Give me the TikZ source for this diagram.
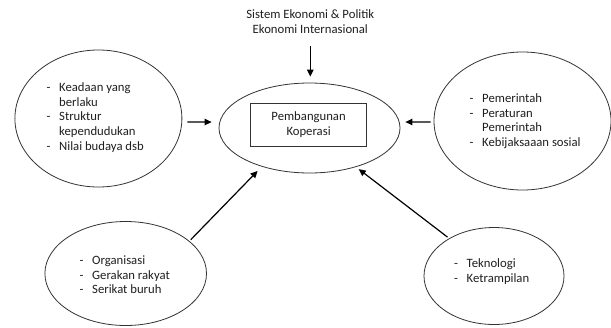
\documentclass[tikz,border=0pt]{standalone}
\usepackage{fontspec}
\setmainfont{Carlito}
\usetikzlibrary{shapes.geometric,arrows.meta}
\begin{document}
\begin{tikzpicture}[x=1bp,y=-1bp,
  oval/.style={draw=black!80, line width=0.8bp, ellipse, inner sep=0pt},
  txt/.style={inner sep=0pt, text=black!88, font=\fontsize{12.7bp}{14.7bp}\selectfont},
  lst/.style={txt, anchor=base west},
  arr/.style={draw=black, line width=1.2bp, -{Triangle[length=7bp,width=6.5bp]}},
]
\useasboundingbox[fill=white] (0,0) rectangle (611,327);

% top source text
\node[txt, anchor=base] (top) at (310.3,18.5)
  {\begin{tabular}[t]{@{}c@{}}Sistem Ekonomi \& Politik\\ Ekonomi Internasional\end{tabular}};

% centre
\node[oval, minimum width=181bp, minimum height=90bp] (center) at (309.5,128) {};
\node[txt, draw=black!80, line width=1.2bp, minimum width=116bp, minimum height=43bp,
      align=center] (box) at (308.6,124.7) {Pembangunan\\ Koperasi};

% surrounding ellipses
\node[oval, minimum width=167bp, minimum height=137bp] (left) at (98.4,118.5) {};
\node[oval, minimum width=177bp, minimum height=138bp] (right) at (522.5,121) {};
\node[oval, minimum width=161.6bp, minimum height=104bp] (bl) at (125.7,273.5) {};
\node[oval, minimum width=140bp, minimum height=97bp] (br) at (494,276) {};

% lists
\node[lst] (ltext) at (46.5,91.5)
  {\begin{tabular}[t]{@{}p{12.5bp}@{}l@{}}-&Keadaan yang\\ &berlaku\\ -&Struktur\\ &kependudukan\\ -&Nilai budaya dsb\end{tabular}};
\node[lst] (rtext) at (469.5,102.5)
  {\begin{tabular}[t]{@{}p{12.5bp}@{}l@{}}-&Pemerintah\\ -&Peraturan\\ &Pemerintah\\ -&Kebijaksaaan sosial\end{tabular}};
\node[lst] (bltext) at (79.5,264.5)
  {\begin{tabular}[t]{@{}p{12.5bp}@{}l@{}}-&Organisasi\\ -&Gerakan rakyat\\ -&Serikat buruh\end{tabular}};
\node[lst] (brtext) at (454,267.5)
  {\begin{tabular}[t]{@{}p{12.5bp}@{}l@{}}-&Teknologi\\ -&Ketrampilan\end{tabular}};

% connectors
\draw[arr, shorten <=8.6bp, shorten >=6bp] (top.south) -- (top.south |- center.north);
\draw[arr, shorten <=5bp, shorten >=7bp] ([yshift=-3.5bp]left.east) -- ([yshift=6bp]center.west);
\draw[arr, shorten <=3bp, shorten >=5bp] ([yshift=-1bp]right.west) -- ([yshift=6bp]center.east);
\draw[arr, shorten <=2bp, shorten >=6bp] (bl.27) -- (center.219);
\draw[arr, shorten <=2bp, shorten >=3.5bp] (br.140) -- (center.320);
\end{tikzpicture}
\end{document}
